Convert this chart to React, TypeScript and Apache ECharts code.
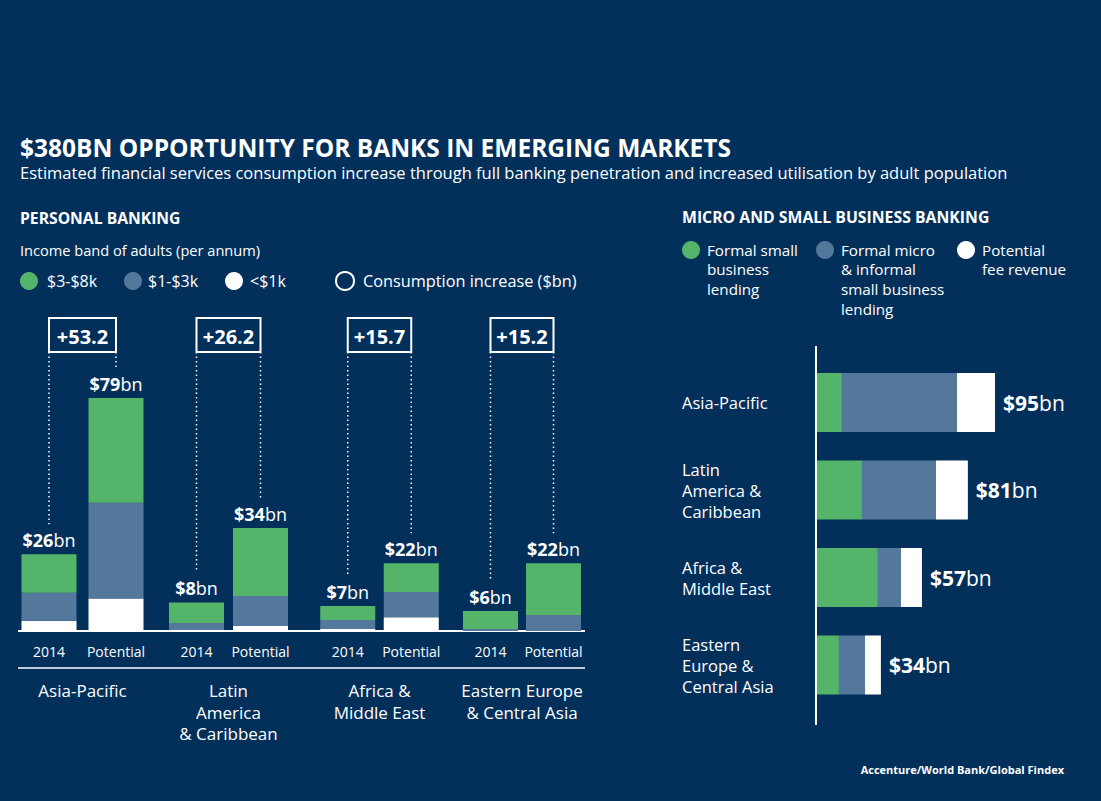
import React, { useEffect, useRef } from "react";
import * as echarts from "echarts";

// ---------- DATA ----------
const regions = ["Asia-Pacific", "Latin\nAmerica\n& Caribbean", "Africa &\nMiddle East", "Eastern Europe\n& Central Asia"];
const periods = ["2014", "Potential"];
// per region: [2014, Potential], $bn
const incomeUnder1k = [[3.5, 11], [0.3, 1.7], [0.7, 4.7], [0, 0]];
const income1to3k = [[9.5, 32.5], [2.4, 10.2], [3, 8.5], [0.7, 5.4]];
const income3to8k = [[13, 35.5], [7, 23], [4.8, 9.8], [6.1, 17.6]];
const personalTotals = [[26, 79], [8, 34], [7, 22], [6, 22]];
const increases = ["+53.2", "+26.2", "+15.7", "+15.2"];

const smeRegions = ["Asia-Pacific", "Latin\nAmerica &\nCaribbean", "Africa &\nMiddle East", "Eastern\nEurope &\nCentral Asia"];
const formalSmall = [13.3, 24, 32.5, 11.7];
const formalMicro = [61.4, 39.5, 12.3, 13.9];
const feeRevenue = [20.3, 17, 11.2, 8.5];
const smeTotals = [95, 81, 57, 34];

// ---------- STYLE ----------
const BG = "#02305b";
const GREEN = "#53b46a";
const BLUE = "#54789b";
const WHITE = "#ffffff";
const FONT = "'Open Sans', 'Noto Sans', sans-serif";

const gridLeft = [15.5, 164.5, 316, 459];
const gridWidth = [134, 128, 127, 126];
const BASE_Y = 631;
const PX_PER_BN = 2.95;
const Y_MAX = 80;

export default function App() {
  const ref = useRef<HTMLDivElement>(null);
  useEffect(() => {
    document.body.style.margin = "0";
    const chart = echarts.init(ref.current!, null, { renderer: "svg" });

    const grids: any[] = [];
    const xAxes: any[] = [];
    const yAxes: any[] = [];
    const series: any[] = [];
    const plotH = Y_MAX * PX_PER_BN;

    regions.forEach((name, i) => {
      grids.push({ left: gridLeft[i], width: gridWidth[i], top: BASE_Y - plotH, height: plotH });
      xAxes.push({
        type: "category", gridIndex: i, data: periods,
        axisLine: { show: false }, axisTick: { show: false },
        axisLabel: { color: WHITE, fontSize: 14, fontFamily: FONT, margin: 13, interval: 0, hideOverlap: false },
        name, nameLocation: "middle", nameGap: 49,
        nameTextStyle: { color: WHITE, fontSize: 17, fontFamily: FONT, lineHeight: 21.5, verticalAlign: "top" },
      });
      yAxes.push({ type: "value", gridIndex: i, min: 0, max: Y_MAX, show: false });
      const mk = (data: number[], color: string, label?: boolean) => ({
        type: "bar", xAxisIndex: i, yAxisIndex: i, stack: "p" + i, barWidth: 55,
        data, itemStyle: { color }, silent: true,
        label: label ? {
          show: true, position: "top", distance: 5,
          formatter: (p: any) => `{b|$${personalTotals[i][p.dataIndex]}}{n|bn}`,
          rich: {
            b: { color: WHITE, fontSize: 18, fontWeight: "bold", fontFamily: FONT },
            n: { color: WHITE, fontSize: 18, fontFamily: FONT },
          },
        } : { show: false },
      });
      series.push(mk(incomeUnder1k[i], WHITE));
      series.push(mk(income1to3k[i], BLUE));
      series.push(mk(income3to8k[i], GREEN, true));
    });

    // SME grid
    const smeIdx = regions.length;
    grids.push({ left: 817, width: 187.4, top: 358.75, height: 350 });
    xAxes.push({ type: "value", gridIndex: smeIdx, min: 0, max: 100, show: false });
    yAxes.push({
      type: "category", gridIndex: smeIdx, data: smeRegions, inverse: true,
      axisLine: { show: false }, axisTick: { show: false },
      axisLabel: { color: WHITE, fontSize: 16.5, fontFamily: FONT, lineHeight: 21, align: "left", margin: 135 },
    });
    const mkS = (data: number[], color: string, label?: boolean) => ({
      type: "bar", xAxisIndex: smeIdx, yAxisIndex: smeIdx, stack: "sme", barWidth: 59,
      data, itemStyle: { color }, silent: true,
      label: label ? {
        show: true, position: "right", distance: 8,
        formatter: (p: any) => `{b|$${smeTotals[p.dataIndex]}}{n|bn}`,
        rich: {
          b: { color: WHITE, fontSize: 21, fontWeight: "bold", fontFamily: FONT },
          n: { color: WHITE, fontSize: 21, fontFamily: FONT },
        },
      } : { show: false },
    });
    series.push(mkS(formalSmall, GREEN));
    series.push(mkS(formalMicro, BLUE));
    series.push(mkS(feeRevenue, WHITE, true));

    chart.setOption({
      animation: false,
      backgroundColor: BG,
      grid: grids, xAxis: xAxes, yAxis: yAxes, series,
    });

    const txt = (text: string, x: number, y: number, size: number, bold = false, extra: any = {}) => ({
      type: "text", x, y, silent: true,
      style: {
        text, fill: WHITE, fontSize: size, fontWeight: bold ? "bold" : "normal", fontFamily: FONT,
        align: "left", verticalAlign: "middle", ...extra,
      },
    });
    const circ = (cx: number, cy: number, fill: string, stroke?: string) => ({
      type: "circle", silent: true, shape: { cx, cy, r: 9 },
      style: stroke ? { fill: "none", stroke, lineWidth: 2 } : { fill },
    });
    const multi = { verticalAlign: "top", lineHeight: 19.6 };

    const g: any[] = [
      txt("$380BN OPPORTUNITY FOR BANKS IN EMERGING MARKETS", 20, 147, 24.5, true),
      txt("Estimated financial services consumption increase through full banking penetration and increased utilisation by adult population", 20, 172, 16.5),
      txt("PERSONAL BANKING", 20, 218, 15.7, true),
      txt("Income band of adults (per annum)", 20, 250, 14.6),
      circ(29, 281, GREEN), txt("$3-$8k", 47, 281, 16),
      circ(133, 281, BLUE), txt("$1-$3k", 148, 281, 16),
      circ(234, 281, WHITE), txt("<$1k", 250, 281, 16),
      circ(345, 281, "", WHITE), txt("Consumption increase ($bn)", 363, 281, 16.3),
      txt("MICRO AND SMALL BUSINESS BANKING", 682, 217, 15.8, true),
      circ(691, 250, GREEN), txt("Formal small\nbusiness\nlending", 707, 240, 15.2, false, multi),
      circ(825, 250, BLUE), txt("Formal micro\n& informal\nsmall business\nlending", 841, 240, 15.2, false, multi),
      circ(966, 250, WHITE), txt("Potential\nfee revenue", 982, 240, 15.2, false, multi),
      { type: "line", silent: true, shape: { x1: 816, y1: 346, x2: 816, y2: 725 }, style: { stroke: WHITE, lineWidth: 2 } },
      { type: "line", silent: true, shape: { x1: 18, y1: BASE_Y, x2: 585, y2: BASE_Y }, style: { stroke: WHITE, lineWidth: 2 } },
      { type: "line", silent: true, shape: { x1: 18, y1: 668, x2: 585, y2: 668 }, style: { stroke: WHITE, lineWidth: 1.5 } },
      txt("Accenture/World Bank/Global Findex", 1064, 769, 11, true, { align: "right" }),
    ];

    // consumption-increase boxes, positioned through the axes
    regions.forEach((_, i) => {
      const pts = [0, 1].map((k) => {
        const tot = incomeUnder1k[i][k] + income1to3k[i][k] + income3to8k[i][k];
        return chart.convertToPixel({ xAxisIndex: i, yAxisIndex: i }, [k, tot]) as number[];
      });
      const x0 = pts[0][0], x1 = pts[1][0];
      const top = 318, h = 34;
      g.push({ type: "rect", silent: true, shape: { x: x0, y: top, width: x1 - x0, height: h }, style: { fill: "none", stroke: WHITE, lineWidth: 2 } });
      g.push(txt(increases[i], (x0 + x1) / 2, top + h / 2 + 1, 20, true, { align: "center" }));
      pts.forEach((p) => {
        g.push({ type: "line", silent: true, shape: { x1: p[0], y1: top + h, x2: p[0], y2: p[1] - 30 }, style: { stroke: WHITE, lineWidth: 1.5, lineDash: [1.5, 3] } });
      });
    });

    chart.setOption({ graphic: g });
    return () => chart.dispose();
  }, []);
  return <div ref={ref} style={{ width: 1101, height: 801, background: BG }} />;
}
